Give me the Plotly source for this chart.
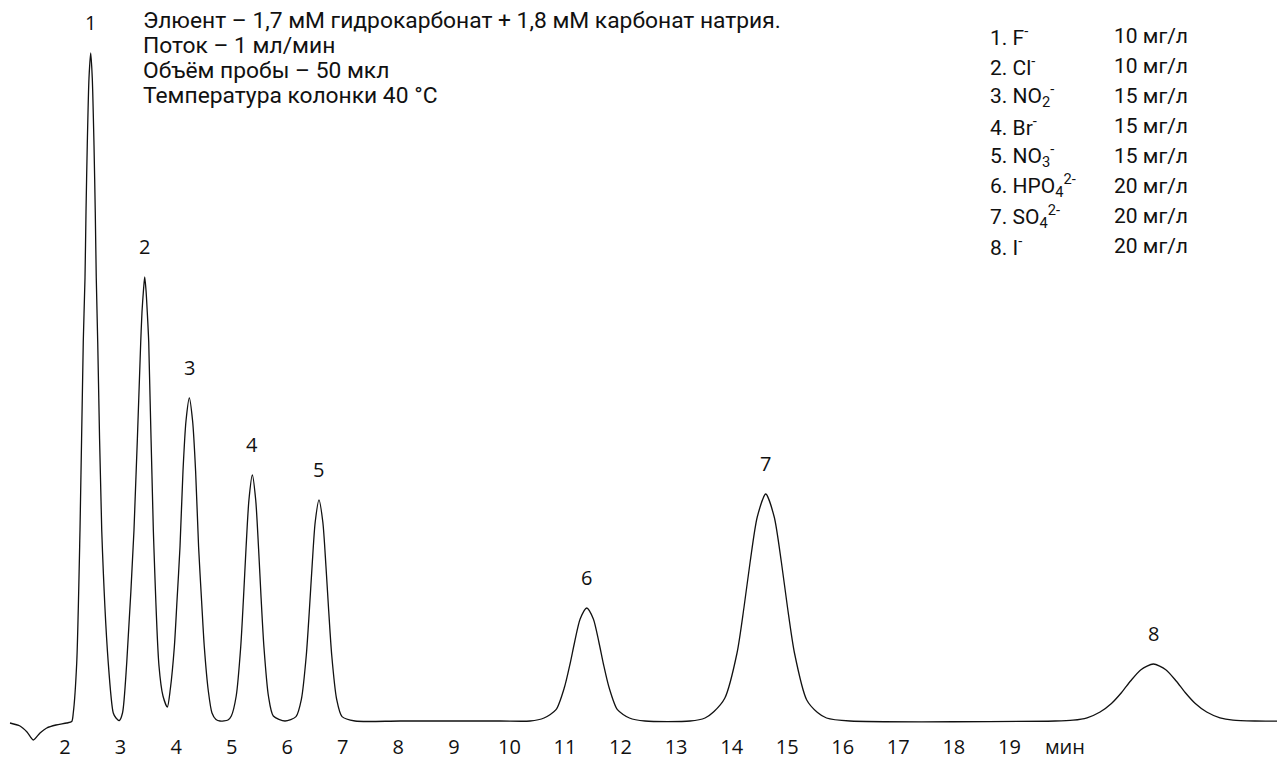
import plotly.graph_objects as go

# Chromatogram trace: time (min) and signal (arbitrary units)
time_min = [1.010, 1.190, 1.316, 1.429, 1.550, 1.671, 1.838, 2.031, 2.121,
            # peak 1
            2.149, 2.211, 2.270, 2.329, 2.360, 2.378, 2.401, 2.432, 2.463, 2.491, 2.522, 2.545,
            2.563, 2.589, 2.661, 2.779, 2.869, 2.918, 2.977, 3.035,
            # peak 2
            3.111, 3.242, 3.363, 3.386, 3.413, 3.435, 3.458, 3.481, 3.507, 3.590, 3.692, 3.764, 3.842,
            # peak 3
            3.896, 3.968, 4.016, 4.070, 4.124, 4.178, 4.238, 4.297, 4.351, 4.405, 4.459, 4.508,
            4.580, 4.646, 4.718, 4.790, 4.934,
            # peak 4
            4.994, 5.082, 5.163, 5.213, 5.258, 5.311, 5.372, 5.433, 5.485, 5.530, 5.581, 5.662,
            5.750, 5.960,
            # peak 5
            6.158, 6.256, 6.344, 6.398, 6.448, 6.504, 6.572, 6.641, 6.697, 6.747, 6.801, 6.889,
            6.987, 7.221,
            8.031, 9.831, 10.371,
            # peak 6
            10.623, 10.839, 10.992, 11.089, 11.174, 11.273, 11.392, 11.511, 11.610, 11.694, 11.791,
            11.944, 12.160, 12.441,
            13.251,
            # peak 7
            13.521, 13.683, 13.876, 14.097, 14.222, 14.333, 14.461, 14.614, 14.767, 14.895, 15.006,
            15.131, 15.352, 15.546, 15.708, 16.131,
            19.822,
            # peak 8
            20.146, 20.398, 20.632, 20.837, 21.019, 21.181, 21.368, 21.591, 21.815, 22.002, 22.164,
            22.346, 22.551, 22.791, 23.025, 23.421, 23.961]
signal = [-2, -5, -11, -19, -12, -7, -4, -2, -0.5,
          8, 58, 191, 379, 443, 509, 576, 643, 668, 643, 576, 509,
          443, 379, 191, 58, 8, 3, 0.5, 8,
          58, 191, 379, 409, 431, 444, 431, 409, 379, 191, 55, 25, 14,
          32, 74, 120, 174, 250, 300, 323, 300, 250, 174, 120, 74,
          30, 8, 1.5, 0, 1,
          5, 25, 74, 123, 172, 221, 246, 221, 172, 123, 74, 25,
          5, 0,
          4.4, 22, 66, 110, 155, 199, 221, 199, 155, 110, 66, 22,
          4.4, 0,
          0, 0, 0,
          3, 11.3, 34, 56.5, 79, 102, 113, 102, 79, 56.5, 34,
          11.3, 3, 0,
          0,
          3, 9.5, 22.7, 68, 113.5, 159, 204, 227, 204, 159, 113.5,
          68, 21, 8.5, 3, 0,
          0,
          0.8, 3.2, 9.0, 17.5, 28.5, 40, 51.3, 57, 51.3, 40, 28.5,
          17.5, 9.0, 3.2, 0.8, 0, 0]

# Peak labels
peak_labels = ["1", "2", "3", "4", "5", "6", "7", "8"]
peak_times = [2.463, 3.435, 4.238, 5.372, 6.572, 11.392, 14.614, 21.591]
peak_heights = [668, 444, 323, 246, 221, 113, 227, 57]

# Axis ticks
tick_values = list(range(2, 21))
tick_labels = [str(v) for v in range(2, 20)] + ["мин"]

# Conditions text
conditions = ["Элюент – 1,7 мМ гидрокарбонат + 1,8 мМ карбонат натрия.",
              "Поток – 1 мл/мин",
              "Объём пробы – 50 мкл",
              "Температура колонки 40 °C"]

# Analyte legend
analytes = ["1. F<sup>-</sup>", "2. Cl<sup>-</sup>", "3. NO<sub>2</sub><sup>-</sup>",
            "4. Br<sup>-</sup>", "5. NO<sub>3</sub><sup>-</sup>",
            "6. HPO<sub>4</sub><sup>2-</sup>", "7. SO<sub>4</sub><sup>2-</sup>", "8. I<sup>-</sup>"]
concentrations = ["10 мг/л", "10 мг/л", "15 мг/л", "15 мг/л", "15 мг/л",
                  "20 мг/л", "20 мг/л", "20 мг/л"]

# The page body has an 8 px margin, so the figure is offset by (8, 8)
OFF = 8
W, H = 1285 - OFF, 766 - OFF
TXT_FONT = "Roboto"
INK = "#111111"


def px(x):
    return (x - OFF) / W


def py(y):
    return 1 - (y - OFF) / H


fig = go.Figure()
fig.add_trace(go.Scatter(x=time_min, y=signal, mode="lines",
                         line=dict(color=INK, width=1.3, shape="spline", smoothing=0.7),
                         hoverinfo="skip", showlegend=False))

annotations = []
for lab, t, h in zip(peak_labels, peak_times, peak_heights):
    annotations.append(dict(x=t, y=h, xref="x", yref="y", text=lab, showarrow=False,
                            yshift=31, font=dict(family="Open Sans", size=20, color=INK)))

for i, line in enumerate(conditions):
    annotations.append(dict(x=px(141), y=py(20 + 25.3 * i), xref="paper", yref="paper",
                            text=line, showarrow=False, xanchor="left", yanchor="middle",
                            font=dict(family=TXT_FONT, size=22.8, color=INK)))

for i, (a, c) in enumerate(zip(analytes, concentrations)):
    yy = py(36 + 30 * i)
    annotations.append(dict(x=px(988), y=yy, xref="paper", yref="paper", text=a,
                            showarrow=False, xanchor="left", yanchor="middle",
                            font=dict(family=TXT_FONT, size=21, color=INK)))
    annotations.append(dict(x=px(1112), y=yy, xref="paper", yref="paper", text=c,
                            showarrow=False, xanchor="left", yanchor="middle",
                            font=dict(family=TXT_FONT, size=21, color=INK)))

fig.update_layout(
    width=W, height=H,
    margin=dict(l=0, r=0, t=0, b=0),
    paper_bgcolor="white", plot_bgcolor="white",
    xaxis=dict(range=[0.974, 23.961], tickvals=tick_values, ticktext=tick_labels,
               showgrid=False, zeroline=False, showline=False, ticks="",
               anchor="free", position=0.044,
               tickfont=dict(family="Open Sans", size=20, color=INK)),
    yaxis=dict(range=[-45, 713], visible=False, showgrid=False, zeroline=False),
    annotations=annotations,
)

fig.write_html("out.html")
